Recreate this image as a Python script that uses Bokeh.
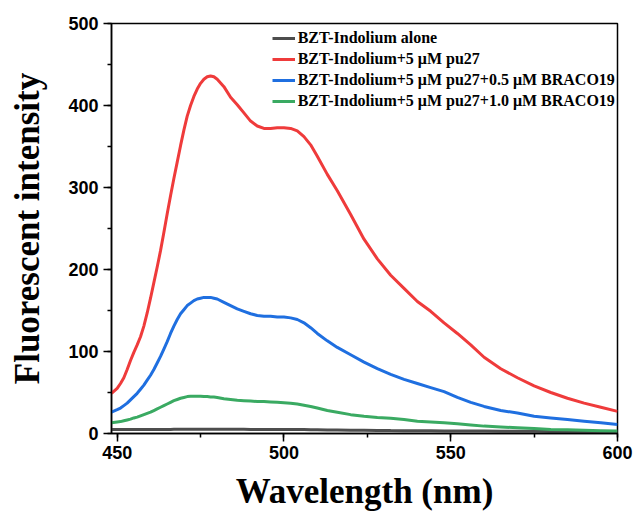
from bokeh.plotting import figure
from bokeh.models import Range1d, SingleIntervalTicker, Legend, LegendItem
from bokeh.embed import file_html
from bokeh.resources import INLINE

wavelength = ([448.3, 450, 451, 452, 453, 454, 455, 456, 457, 458, 459, 460, 461, 462, 463, 464,
               465, 466, 467, 468, 469, 470, 471, 472, 473, 474, 475, 476, 477, 478, 479, 480]
              + [482, 484, 486, 488, 490, 492, 494, 496, 498, 500, 502, 504, 506, 508, 510]
              + [513, 516, 520, 524, 528, 532, 536, 540, 544, 548, 552, 556, 560, 565, 570,
                 575, 580, 585, 590, 595, 600])

alone = ([5, 5, 5, 5, 5, 5, 5, 5, 5, 5, 5, 5, 5, 5, 5, 5,
          5, 5, 5.1, 5.1, 5.1, 5.2, 5.2, 5.2, 5.2, 5.2, 5.2, 5.2, 5.2, 5.2, 5.2, 5.2]
         + [5.2, 5.2, 5.2, 5.2, 5, 5, 5, 5, 5, 5, 5, 5, 4.8, 4.6, 4.5]
         + [4.3, 4.2, 4, 3.9, 3.8, 3.6, 3.5, 3.4, 3.3, 3.2, 3.1, 3, 3, 2.8, 2.7,
            2.6, 2.5, 2.4, 2.2, 2.1, 2])

pu27 = ([49, 55, 61, 68, 78, 89, 99, 108, 118, 131, 147, 165, 184, 203, 223, 245,
         268, 290, 311, 331, 351, 370, 387, 400, 411, 420, 427, 432, 435, 436, 435, 432]
        + [423, 410, 401, 391, 381, 375, 372, 372, 373, 373, 372, 369, 362, 352, 338]
        + [316, 296, 267, 237, 213, 193, 177, 161, 149, 135, 122, 108, 93, 79, 68,
           58, 50, 43, 37, 32, 27])

braco05 = ([26, 29, 31, 34, 37, 41, 45, 49, 54, 59, 65, 71, 78, 86, 94, 103,
            112, 122, 131, 139, 146, 151, 156, 159, 162, 164, 165, 166, 166, 166, 165, 164]
           + [160, 156, 152, 149, 146, 144, 143, 143, 142, 142, 141, 139, 135, 129, 122]
           + [113, 105, 96, 87, 79, 72, 66, 61, 56, 51, 44, 38, 33, 28, 25,
              21, 19, 17, 15, 13, 11])

braco10 = ([13, 14, 14.5, 15.5, 16.5, 17.5, 19, 20, 21.5, 23, 24.5, 26, 28, 30, 32, 34,
            36, 38, 40, 41.5, 43, 44, 45, 45.5, 45.5, 45.5, 45.5, 45, 45, 44.5, 44.5, 44]
           + [42.5, 41.5, 40.5, 40, 39.5, 39, 39, 38.5, 38, 37.5, 37, 36, 34.5, 33, 31]
           + [28, 26, 23, 21, 19.5, 18.5, 17, 15, 14, 13, 12, 10.5, 9, 8, 7,
              6, 5, 4.5, 4, 3.5, 3])

labels = ["BZT-Indolium alone",
          "BZT-Indolium+5 \u03bcM pu27",
          "BZT-Indolium+5 \u03bcM pu27+0.5 \u03bcM BRACO19",
          "BZT-Indolium+5 \u03bcM pu27+1.0 \u03bcM BRACO19"]
colors = ["#4d4d4d", "#ef3b3b", "#1f6fe0", "#3aaa62"]

p = figure(width=634, height=514, output_backend="svg", toolbar_location=None,
           x_range=Range1d(448.3, 600), y_range=Range1d(0, 500),
           min_border_left=111, min_border_right=17, min_border_top=23, min_border_bottom=81)
p.xgrid.visible = False
p.ygrid.visible = False
p.outline_line_color = "black"
p.outline_line_width = 1.5
p.background_fill_color = "white"

series = [alone, pu27, braco05, braco10]
renderers = []
for ys, c in zip(series, colors):
    r = p.line(wavelength, ys, line_color=c, line_width=3)
    renderers.append(r)

p.xaxis.ticker = SingleIntervalTicker(interval=50, num_minor_ticks=2)
p.yaxis.ticker = SingleIntervalTicker(interval=100, num_minor_ticks=2)

for ax in (p.xaxis[0], p.yaxis[0]):
    ax.axis_line_color = "black"
    ax.axis_line_width = 1.5
    ax.major_tick_line_color = "black"
    ax.minor_tick_line_color = "black"
    ax.major_tick_line_width = 1.5
    ax.minor_tick_line_width = 1.5
    ax.major_tick_out = 8
    ax.major_tick_in = 0
    ax.minor_tick_out = 4
    ax.minor_tick_in = 0
    ax.major_label_text_font = "Liberation Sans"
    ax.major_label_text_font_style = "bold"
    ax.major_label_text_font_size = "18px"
    ax.major_label_text_color = "black"
    ax.axis_label_text_font = "Liberation Serif"
    ax.axis_label_text_font_style = "bold"
    ax.axis_label_text_font_size = "35px"
    ax.axis_label_text_color = "black"

p.xaxis.axis_label = "Wavelength (nm)"
p.yaxis.axis_label = "Fluorescent intensity"
p.xaxis.major_label_standoff = 4
p.xaxis.axis_label_standoff = 10
p.yaxis.major_label_standoff = 5
p.yaxis.axis_label_standoff = 18

items = [LegendItem(label=l, renderers=[r]) for l, r in zip(labels, renderers)]
legend = Legend(items=items, location=(160.7, 321.7))
legend.padding = 0
legend.spacing = 1
legend.margin = 0
legend.label_height = 20
legend.glyph_height = 20
legend.glyph_width = 23
legend.label_standoff = 3
legend.border_line_alpha = 0
legend.background_fill_alpha = 0
legend.label_text_font = "Liberation Serif"
legend.label_text_font_style = "bold"
legend.label_text_font_size = "16px"
legend.label_text_color = "black"
p.add_layout(legend)

open("out.html", "w").write(file_html(p, INLINE))
